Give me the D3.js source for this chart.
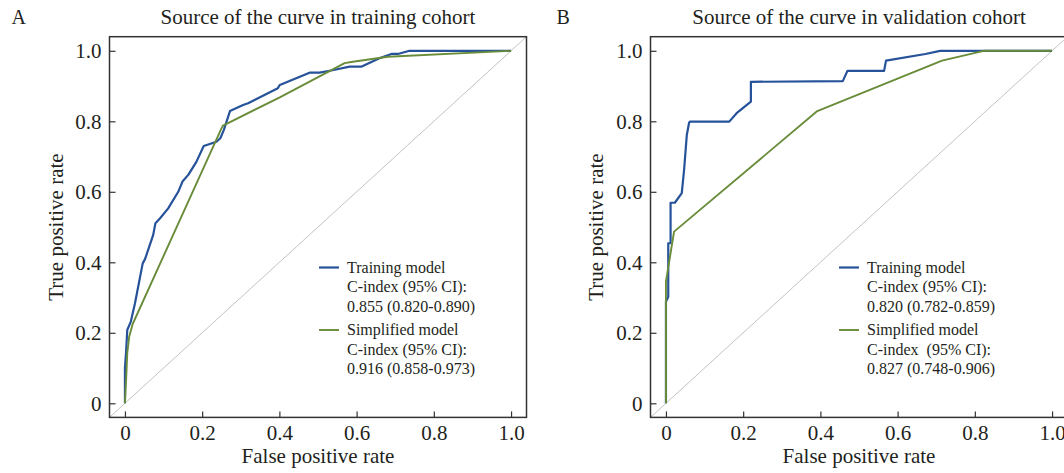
<!DOCTYPE html>
<html>
<head>
<meta charset="utf-8">
<script src="https://cdn.jsdelivr.net/npm/d3@7"></script>
<style>
  body { margin: 0; background: #fff; }
  svg { display: block; font-family: "Liberation Serif", "Times New Roman", serif; }
  text { fill: #231f20; white-space: pre; }
</style>
</head>
<body>
<div id="chart"></div>
<script>
const AREA_WIDTH = 1064;
const AREA_HEIGHT = 473;
const FONT = '"Liberation Serif", "Times New Roman", serif';

const BLUE = '#26529a';
const GREEN = '#688c3a';

const tickValues = [0, 0.2, 0.4, 0.6, 0.8, 1.0];
const panelLetters = ['A', 'B'];
const panelTitles = ['Source of the curve in training cohort', 'Source of the curve in validation cohort'];
const xLabel = 'False positive rate';
const yLabel = 'True positive rate';

// ROC points [false positive rate, true positive rate]
const trainingCohortTrainingModel = [
  [0, 0], [0, 0.100], [0.003, 0.146], [0.006, 0.208], [0.015, 0.231], [0.026, 0.284],
  [0.046, 0.397], [0.052, 0.409], [0.073, 0.477], [0.079, 0.511], [0.091, 0.525],
  [0.112, 0.553], [0.138, 0.600], [0.149, 0.629], [0.164, 0.648], [0.185, 0.685],
  [0.204, 0.730], [0.237, 0.742], [0.247, 0.752], [0.256, 0.775], [0.272, 0.829],
  [0.306, 0.846], [0.319, 0.851], [0.396, 0.894], [0.401, 0.903], [0.478, 0.938],
  [0.504, 0.938], [0.534, 0.944], [0.582, 0.955], [0.612, 0.955], [0.659, 0.979],
  [0.690, 0.991], [0.707, 0.991], [0.737, 1.0], [1.0, 1.0]
];
const trainingCohortSimplifiedModel = [
  [0, 0], [0.003, 0.066], [0.006, 0.142], [0.011, 0.189], [0.020, 0.225], [0.023, 0.232],
  [0.250, 0.780], [0.254, 0.788], [0.401, 0.868], [0.569, 0.965], [0.590, 0.969],
  [0.681, 0.983], [1.0, 1.0]
];
const validationCohortTrainingModel = [
  [0, 0], [0, 0.288], [0.006, 0.302], [0.006, 0.454], [0.012, 0.454], [0.012, 0.569],
  [0.023, 0.569], [0.041, 0.596], [0.047, 0.662], [0.054, 0.761], [0.060, 0.796],
  [0.062, 0.799], [0.164, 0.799], [0.183, 0.823], [0.220, 0.856], [0.220, 0.912],
  [0.458, 0.914], [0.470, 0.943], [0.565, 0.943], [0.570, 0.972], [0.672, 0.991],
  [0.710, 1.0], [1.0, 1.0]
];
const validationCohortSimplifiedModel = [
  [0, 0], [0, 0.345], [0.021, 0.487], [0.392, 0.829], [0.715, 0.972], [0.823, 1.0], [1.0, 1.0]
];

const legendTextA = [
  ['Training model', 'C-index (95% CI):', '0.855 (0.820-0.890)'],
  ['Simplified model', 'C-index (95% CI):', '0.916 (0.858-0.973)']
];
const legendTextB = [
  ['Training model', 'C-index (95% CI):', '0.820 (0.782-0.859)'],
  ['Simplified model', 'C-index  (95% CI):', '0.827 (0.748-0.906)']
];

const PLOT = { TOP: 36.7, WIDTH: 417, HEIGHT: 380.7 };
const DOMAIN = [-0.04, 1.04];

const svg = d3.select('#chart')
              .append('svg')
              .attr('width', AREA_WIDTH)
              .attr('height', AREA_HEIGHT);

const panels = [
  { left: 109.5, legendX: 209.5, letterX: 11.5, yLabelX: 63, curves: [trainingCohortTrainingModel, trainingCohortSimplifiedModel], legend: legendTextA },
  { left: 650.5, legendX: 188.5, letterX: 556.5, yLabelX: 603, curves: [validationCohortTrainingModel, validationCohortSimplifiedModel], legend: legendTextB }
];

panels.forEach((p, i) => {
  const g = svg.append('g')
               .attr('transform', `translate(${p.left},${PLOT.TOP})`);

  const x = d3.scaleLinear().domain(DOMAIN).range([0, PLOT.WIDTH]);
  const y = d3.scaleLinear().domain(DOMAIN).range([PLOT.HEIGHT, 0]);
  const fmt = d => d === 0 ? '0' : d3.format('.1f')(d);

  // reference diagonal
  g.append('line')
     .attr('x1', x(DOMAIN[0])).attr('y1', y(DOMAIN[0]))
     .attr('x2', x(DOMAIN[1])).attr('y2', y(DOMAIN[1]))
     .attr('stroke', '#b4b4b4')
     .attr('stroke-width', 0.8);

  const line = d3.line().x(d => x(d[0])).y(d => y(d[1]));
  [BLUE, GREEN].forEach((c, k) => {
    g.append('path')
       .datum(p.curves[k])
       .attr('fill', 'none')
       .attr('stroke', c)
       .attr('stroke-width', k === 0 ? 2.2 : 1.9)
       .attr('stroke-linejoin', 'round')
       .attr('d', line);
  });

  const xAxis = g.append('g')
                   .attr('transform', `translate(0,${PLOT.HEIGHT})`)
                   .call(d3.axisBottom(x).tickValues(tickValues).tickFormat(fmt)
                           .tickSizeInner(-6).tickSizeOuter(0).tickPadding(8));
  const yAxis = g.append('g')
                   .call(d3.axisLeft(y).tickValues(tickValues).tickFormat(fmt)
                           .tickSizeInner(-6).tickSizeOuter(0).tickPadding(8));
  [xAxis, yAxis].forEach(a => {
    a.select('.domain').remove();
    a.selectAll('line').attr('stroke', '#333').attr('stroke-width', 1.2);
    a.selectAll('text')
       .style('font-family', FONT)
       .style('font-size', '21px')
       .attr('fill', '#231f20');
  });

  g.append('rect')
     .attr('width', PLOT.WIDTH)
     .attr('height', PLOT.HEIGHT)
     .attr('fill', 'none')
     .attr('stroke', '#333')
     .attr('stroke-width', 1.5);

  g.append('text')
     .attr('x', PLOT.WIDTH / 2)
     .attr('y', 463.5 - PLOT.TOP)
     .style('text-anchor', 'middle')
     .style('font-size', '21px')
     .text(xLabel);

  g.append('text')
     .attr('transform', 'rotate(-90)')
     .attr('x', -PLOT.HEIGHT / 2)
     .attr('y', p.yLabelX - p.left)
     .style('text-anchor', 'middle')
     .style('font-size', '21px')
     .text(yLabel);

  g.append('text')
     .attr('x', PLOT.WIDTH / 2)
     .attr('y', 24 - PLOT.TOP)
     .style('text-anchor', 'middle')
     .style('font-size', '21px')
     .text(panelTitles[i]);

  svg.append('text')
       .attr('x', p.letterX)
       .attr('y', 24)
       .style('font-size', '20px')
       .text(panelLetters[i]);

  // legend
  const lg = g.append('g').attr('transform', `translate(${p.legendX},0)`);
  p.legend.forEach((lines, k) => {
    const top = k === 0 ? 267.5 - PLOT.TOP : 330 - PLOT.TOP;
    lg.append('line')
        .attr('x1', 0).attr('x2', 20)
        .attr('y1', top).attr('y2', top)
        .attr('stroke', k === 0 ? BLUE : GREEN)
        .attr('stroke-width', k === 0 ? 2.2 : 1.9);
    lines.forEach((t, j) => {
      lg.append('text')
          .attr('x', 28)
          .attr('y', top + 5.3 + j * 19.4)
          .style('font-size', '16px')
          .text(t);
    });
  });
});
</script>
</body>
</html>
